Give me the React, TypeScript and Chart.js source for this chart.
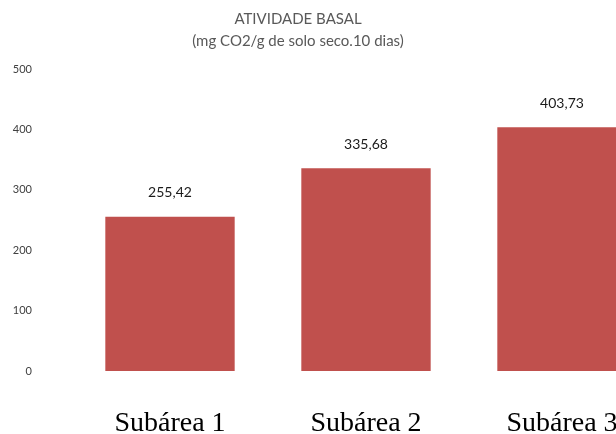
import React, { useEffect, useRef } from "react";
import { Chart, registerables } from "chart.js";

Chart.register(...registerables);

const categories = ["Subárea 1", "Subárea 2", "Subárea 3"];
const values = [255.42, 335.68, 403.73];
const titleLines = ["ATIVIDADE BASAL", "(mg CO2/g de solo seco.10 dias)"];
const yMin = 0;
const yMax = 500;
const yStep = 100;

const fmt = (v: number) => v.toFixed(2).replace(".", ",");

const valueLabels = {
  id: "valueLabels",
  afterDatasetsDraw(chart: any) {
    const ctx = chart.ctx;
    const meta = chart.getDatasetMeta(0);
    ctx.save();
    ctx.font = "14px Lato, 'Open Sans', sans-serif";
    ctx.fillStyle = "#1a1a1a";
    ctx.textAlign = "center";
    ctx.textBaseline = "middle";
    meta.data.forEach((bar: any, i: number) => {
      ctx.fillText(fmt(values[i]), bar.x, bar.y - 24);
    });
    ctx.restore();
  },
};

export default function App() {
  const ref = useRef<HTMLCanvasElement>(null);
  useEffect(() => {
    if (!ref.current) return;
    const chart = new Chart(ref.current, {
      type: "bar",
      data: {
        labels: categories,
        datasets: [
          {
            data: values,
            backgroundColor: "#C0504D",
            borderWidth: 0,
            barPercentage: 0.66,
            categoryPercentage: 1,
          },
        ],
      },
      options: {
        responsive: false,
        animation: false,
        devicePixelRatio: 1,
        layout: { padding: { top: 69, right: 0, bottom: 0, left: 0 } },
        plugins: {
          legend: { display: false },
          title: { display: false },
          tooltip: { enabled: false },
        },
        scales: {
          x: {
            grid: { display: false, drawTicks: false },
            border: { display: false },
            ticks: {
              color: "#000",
              font: { family: "'Liberation Serif', 'Times New Roman', serif", size: 28 },
              padding: 36,
            },
            afterFit: (scale: any) => {
              scale.height = 63;
            },
          },
          y: {
            min: yMin,
            max: yMax,
            grid: { display: false, drawTicks: false },
            border: { display: false },
            ticks: {
              stepSize: yStep,
              color: "#404040",
              font: { family: "Lato, 'Open Sans', sans-serif", size: 11 },
              padding: 40,
            },
            afterFit: (scale: any) => {
              scale.width = 72;
            },
          },
        },
      },
      plugins: [valueLabels],
    });
    return () => chart.destroy();
  }, []);

  return (
    <div
      style={{
        position: "fixed",
        left: 0,
        top: 0,
        width: 616,
        height: 434,
        overflow: "hidden",
        background: "#fff",
      }}
    >
      <canvas ref={ref} width={660} height={434} style={{ display: "block" }} />
      <div
        style={{
          position: "absolute",
          left: 0,
          top: 7,
          width: 596,
          textAlign: "center",
          color: "#595959",
          fontFamily: "Lato, 'Open Sans', sans-serif",
          fontSize: 15,
          lineHeight: "22px",
        }}
      >
        {titleLines.map((t) => (
          <div key={t}>{t}</div>
        ))}
      </div>
    </div>
  );
}
